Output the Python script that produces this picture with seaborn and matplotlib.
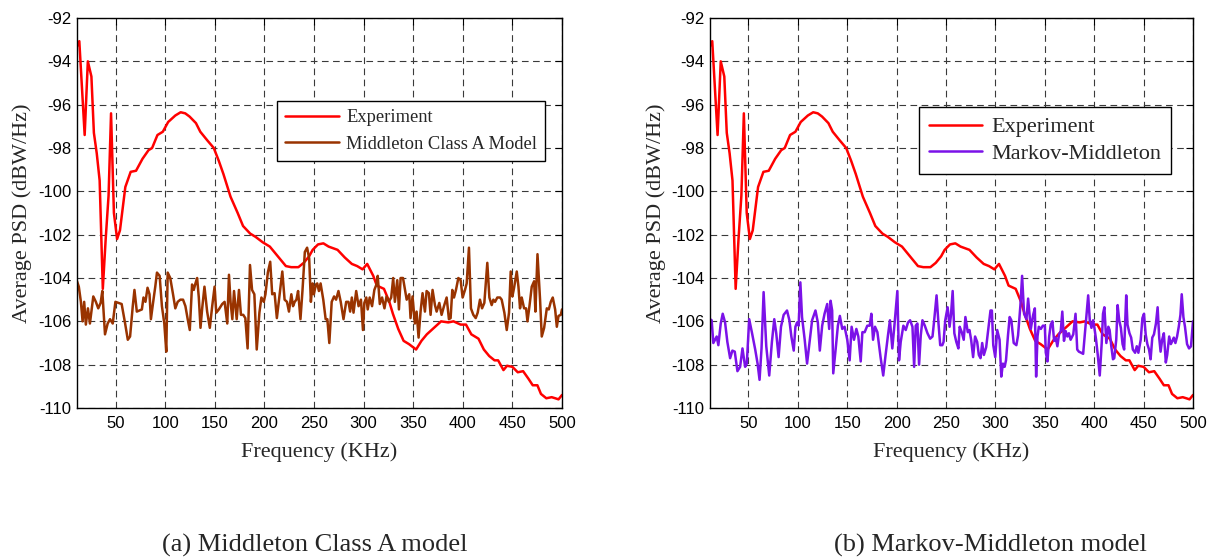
import numpy as np
import pandas as pd
import matplotlib
matplotlib.use('Agg')
import matplotlib.pyplot as plt
import seaborn as sns

# %% data (frequency in KHz, PSD in dBW/Hz)
exp_freq = [11, 13.3, 18.7, 21.9, 25.5, 28, 30.9, 33.8, 37, 39.9, 42.8, 45.3, 48.2, 51.4,
            54.3, 59.7, 65.1, 70.5, 77, 83.1, 86.7, 92.1, 97.5, 102.9, 110.1, 115.5, 120.1,
            124.5, 130.9, 135.3, 142.4, 148.9, 154, 158.6, 165.8, 173, 178.4, 185.6, 191,
            198.2, 205.4, 209, 214.4, 221.6, 227, 234.2, 239.6, 245, 248.6, 254, 259.4,
            264.7, 273.7, 280.9, 288.1, 293.5, 298.9, 303.6, 309.7, 313.3, 320.5, 325.9,
            329.5, 334.9, 340.3, 345.7, 352.9, 358.3, 363.7, 370.9, 378.1, 385.3, 390.6,
            397.8, 403.2, 408.6, 415.8, 421.2, 426.6, 432, 435.6, 441, 444.6, 450, 455.4,
            460.8, 466.2, 470.5, 475.2, 478.8, 484.2, 489.6, 493.2, 496.5, 500]
exp_psd = [-93.3, -93.07, -97.4, -94.0, -94.7, -97.3, -98.25, -99.5, -104.5, -102.2, -100.2,
           -96.4, -101, -102.2, -101.8, -99.8, -99.1, -99.05, -98.5, -98.1, -98.0, -97.4,
           -97.25, -96.8, -96.5, -96.35, -96.4, -96.55, -96.85, -97.25, -97.65, -98.0, -98.6,
           -99.2, -100.25, -101, -101.6, -101.95, -102.1, -102.35, -102.55, -102.75, -103.05,
           -103.45, -103.5, -103.5, -103.3, -103, -102.7, -102.45, -102.4, -102.55, -102.7,
           -103.05, -103.35, -103.45, -103.6, -103.35, -103.9, -104.35, -104.5, -105.1,
           -105.65, -106.35, -106.9, -107.05, -107.3, -106.9, -106.6, -106.3, -106.0, -106.05,
           -106.0, -106.15, -106.15, -106.6, -106.8, -107.3, -107.6, -107.8, -107.8, -108.25,
           -108.05, -108.1, -108.35, -108.3, -108.65, -108.95, -108.95, -109.35, -109.55,
           -109.5, -109.55, -109.6, -109.4]

mca_freq = [11, 12.8, 14.9, 16.6, 18.2, 19.9, 22, 24, 27.4, 30, 32.4, 34.8, 36.5, 39.2, 41.9,
            44.3, 47, 49.7, 52.7, 56, 59.5, 62.2, 64.5, 67.2, 68.9, 71.3, 76.4, 78, 80, 82.1,
            84.1, 85.5, 87.5, 89.9, 91.6, 94.3, 96.6, 99, 101, 102.4, 105, 107.8, 110.1, 112.5,
            115.2, 117.9, 120.3, 122.6, 124.7, 127, 128.7, 130.4, 132.1, 133.8, 135.5, 137.2,
            139.5, 142.2, 144.9, 147.3, 149.7, 151.4, 154, 157.4, 159.8, 162.5, 164.2, 165.9,
            167.6, 169.3, 172, 174.3,
            176.3, 178.6, 180.7, 183, 185.4, 187.5, 189.8, 192.2, 194.9, 196.9, 199.3, 201,
            203.4, 205.8, 207.8, 210.2, 212.5, 215.3, 218, 220.3, 222.7, 224.7, 227.1, 228.8,
            230.5, 232.2, 233.9, 236.3, 238.3, 240.7, 243, 245.1, 246.8, 248.5, 249.8, 251.9,
            253.2, 254.9, 256.6, 259.3, 261.7, 263.4, 265.4, 267.8, 270.2, 272.2, 274.6, 276.9,
            279.7, 282.4, 284.7, 286.4, 288.1, 289.8, 292.5, 294.9, 297.3, 299.3, 300.7, 302.7,
            304.1, 306.1, 308.5, 310.8, 312.9, 314.2, 316.3, 318.6, 321, 323.1, 325.4, 327.8,
            329.8, 331.5, 333.9, 335.6, 337.3, 339.7, 341.4, 343.4,
            346, 347.3, 349.3, 351.7, 353.4, 355.4, 357.4, 359.4, 361.8, 363.5, 365.8, 367.5,
            369.5, 371.9, 373.6, 376.3, 378.6, 381, 383.7, 386, 387.7, 389.4, 391.1, 393.1,
            395.5, 397.8, 399.8, 402.2, 403.9, 406.2, 408.2, 410.6, 413, 415, 417.3, 419.4,
            421.7, 424.7, 426.8, 429.1, 430.8, 432.5, 434.8, 437.5, 439.2, 441.9, 444.3, 446.6,
            448.3, 450, 451.7, 454.4, 456.1, 457.7, 459.4, 461.8, 463.8, 465.2, 467.2, 469.5,
            471.9, 473.2, 475.3, 477.9, 479.6, 482, 484.7, 486.7, 488.7, 490.7, 493.1, 494.8,
            496.5, 498.8, 500]
mca_psd = [-104.15, -104.4, -105.1, -106.0, -105.1, -106.15, -105.4, -106.1, -104.85, -105.1,
           -105.4, -105.15, -104.6, -106.6, -106.1, -105.9, -106.1, -105.1, -105.15, -105.2,
           -106.1, -106.85, -106.7, -105.3, -104.55, -105.55, -105.45, -104.9, -105.1, -104.45,
           -104.75, -105.9, -105.2, -104.4, -103.75, -103.9, -105.3, -106.1, -107.4, -103.75,
           -104, -104.75, -105.4, -105.1, -105, -105, -105.3, -105.9, -106.4, -104.3, -104.55,
           -104.25, -104, -104.9, -106.3, -105.4, -104.4, -105.55, -106.3, -105.3, -104.4,
           -105.6, -105.45, -105.2, -105.1, -106.1, -103.85, -105.15, -105.9, -104.6, -105.9,
           -104.55,
           -105.7, -105.7, -105.85, -107.25, -103.4, -104.55, -104.75, -107.3, -105.6, -104.9,
           -105.1, -104.75, -103.75, -103.25, -104.75, -104.7, -105.85, -104.75, -103.7, -105,
           -105.1, -105.55, -104.75, -105.3, -105.1, -105, -104.6, -105.9, -104.6, -102.8,
           -102.6, -103.1, -105.1, -104.25, -104.75, -104.3, -104.25, -104.6, -104.25, -105,
           -105.9, -105.9, -107, -105.1, -104.85, -105, -104.6, -105.1, -105.9, -105.1, -105.1,
           -105.55, -104.9, -105.6, -104.6, -105.3, -105, -106.4, -105.15, -104.9, -105.45,
           -104.9, -105.3, -104.55, -104.3, -103.9, -105.2, -104.9, -105.4, -104.85, -105.1,
           -104.9, -104, -105.1, -104.1, -105.45, -104, -104, -104.45, -105,
           -104.75, -105.85, -104.85, -106.1, -105.55, -106.75, -105.55, -104.7, -105.55,
           -104.6, -104.7, -105.7, -104.55, -105.25, -105.55, -105.15, -105.7, -105.3, -104.9,
           -105.9, -105.85, -104.55, -104.9, -104.55, -104, -104.1, -104.9, -104.55, -104.25,
           -102.6, -105.4, -105.7, -105.85, -105.6, -105, -105.4, -105.15, -103.3, -104.9,
           -105.25, -105, -105.1, -104.9, -104.9, -105, -105.6, -106.4, -105.6, -103.7,
           -104.85, -104.45, -103.7, -104.4, -105.4, -104.9, -105.4, -105.4, -106, -105.3,
           -104.4, -104.15, -105.55, -102.9, -105, -106.7, -106.3, -105.4, -105.45, -105.1,
           -104.9, -105.45, -106.25, -105.75, -105.7, -105.45]

mm_freq = [11, 12.7, 14.4, 16.1, 17.8, 19.5, 21.9, 23.9, 26.3, 28.6, 31.4, 33.7, 36.1, 38.8,
           41.5, 43.9, 46.6, 48.3, 50.7, 53.4, 56.8, 59.2, 61.2, 63.2, 65.3, 68, 71, 73.7, 76.1,
           78.1, 80.5, 82.9, 85.6, 89, 91.4, 93.4, 95.8, 97.5, 99.2, 100.8, 102.5, 104.2, 106.9,
           109.3, 111.7, 114.4, 117.8, 120.2, 122.2, 124.6, 127, 129.7, 131.7, 133.1, 134.7,
           135.8, 138.1, 140.5, 142.5, 144.9, 147.3, 150, 152.4, 154.4, 156.8, 159.2, 161.2,
           163.6, 165.3, 167.6, 170.3, 172.7, 174.4, 176.1, 178.1, 180.5,
           183.7, 186.4, 188.8, 191.2, 193.2, 195.6, 198, 200.7, 202.4, 204.1, 206.8, 209.2,
           211.5, 213.6, 216, 217.7, 219.3, 221, 222.7, 224.4, 226.1, 228.5, 231.2, 233.9,
           236.3, 238, 240.4, 242.1, 244.1, 246.2, 247.5, 249.2, 251.6, 253.6, 255, 256.7,
           258.4, 260.4, 262.5, 263.8, 265.9, 267.9, 269.6, 272, 273.7, 275.4, 277.4, 279.4,
           281.5, 283.2, 284.9, 286.6, 288.3, 290.6, 293, 295, 296.4, 297.8, 299.8, 301.8,
           304.2, 305.9, 307.6, 309.3, 310.7, 312.7, 314.4, 316.1, 318.5, 321.2, 322.9, 325.3,
           327, 329, 331.4, 333.1, 335.8, 338.2, 339.9, 341.2, 342.6, 343.9, 346, 348, 350,
           351, 352.7, 354.4, 356, 357.7, 359.4, 361, 362.7, 364.4, 366.1, 367.7, 369.4,
           371.1, 372.8, 374.4, 376.1, 378.8, 381.1, 382.8, 384.5, 386.8, 388.8, 390.5, 392.2,
           393.9, 395.5, 397.2, 398.9, 400.2, 401.9, 403.6, 405.6, 407.6, 408.9, 410.3, 412.3,
           414.3, 415.6, 417.3, 419, 420.3, 422.3, 423.7, 425.3, 427, 428.7, 430.3, 432.4,
           433.7, 435.7, 437.4, 439.1, 441.4, 443.1, 444.7, 447.1, 448.8, 450.4, 452.1, 453.8,
           455.5, 457.1, 458.8, 460.5, 462.5, 464.2, 465.8, 467.2, 468.8, 470.5, 472.5, 473.9,
           475.9, 477.6, 479.2, 480.6, 482.2, 483.9, 485.6, 487.3, 488.6, 490.3, 491.9, 494,
           496, 498, 500]
mm_psd = [-105.9, -105.95, -107.0, -106.85, -106.7, -107.1, -106.1, -105.65, -106.05, -106.95,
          -107.7, -107.35, -107.4, -108.3, -108.1, -107.25, -108.1, -107.95, -105.9, -106.5,
          -107.3, -107.95, -108.7, -107.25, -104.65, -107.15, -108.5, -106.95, -105.9, -106.55,
          -107.65, -106.25, -105.7, -105.5, -105.95, -106.7, -107.35, -106.25, -106.05, -106.2,
          -104.2, -105.8, -106.85, -107.95, -107.0, -105.95, -105.5, -106.05, -107.35, -106.2,
          -105.65, -105.2, -106.35, -105.05, -105.5, -108.4, -107.35, -106.2, -105.75, -106.35,
          -106.25, -106.85, -107.8, -106.25, -106.85, -106.35, -106.7, -107.85, -106.5, -106.5,
          -106.2, -106.2, -105.65, -106.85, -106.25, -106.5,
          -107.65, -108.5, -107.55, -106.65, -105.95, -107.25, -106.05, -104.6, -107.8, -106.95,
          -106.2, -106.4, -106.05, -105.95, -106.25, -108.1, -106.2, -106.1, -108.0, -106.65,
          -105.95, -106.2, -106.55, -106.8, -106.7, -105.95, -104.8, -105.95, -107.1, -107.1,
          -106.95, -105.95, -105.35, -106.25, -105.7, -104.6, -106.55, -106.95, -107.25,
          -106.25, -106.5, -106.85, -105.8, -106.5, -106.4, -106.85, -107.65, -106.7, -106.95,
          -107.55, -107.7, -107.0, -107.55, -107.2, -106.25, -105.5, -105.5, -107.1, -107.65,
          -106.4, -106.85, -108.55, -107.95, -108.1, -107.8, -106.65, -105.8, -105.95, -107.0,
          -107.1, -106.65, -105.25, -103.9, -105.65, -105.9, -104.95, -106.35, -105.7, -105.4,
          -108.55, -106.7, -106.25, -106.35, -106.2, -106.2,
          -107.45, -107.85, -106.7, -106.15, -106.0, -106.9, -106.75, -107.15, -106.6, -106.45,
          -105.55, -106.9, -106.45, -106.7, -106.55, -106.85, -106.6, -105.65, -107.3, -107.4,
          -107.45, -107.5, -106.6, -105.7, -104.8, -105.95, -106.3, -105.95, -106.3, -106.85,
          -107.55, -108.5, -107.0, -105.65, -105.35, -107.0, -106.25, -106.4, -107.15, -107.75,
          -107.7, -106.85, -105.25, -105.95, -106.3, -107.05, -107.3, -104.8, -106.15, -106.55,
          -106.75, -107.3, -107.45, -107.15, -107.45, -106.85, -105.85, -105.65, -106.6,
          -107.05, -107.3, -107.75, -106.75, -106.6, -106.1, -105.35, -106.75, -107.4, -106.85,
          -106.55, -107.9, -107.55, -106.7, -107.05, -106.9, -106.75, -107.0, -106.7, -106.25,
          -105.7, -104.75, -105.8, -106.25, -107.05, -107.25, -107.15, -106.0]

x_ticks = [50, 100, 150, 200, 250, 300, 350, 400, 450, 500]
y_ticks = [-110, -108, -106, -104, -102, -100, -98, -96, -94, -92]

# %% style
sns.set_style('white')
plt.rcParams['font.family'] = ['Liberation Serif', 'DejaVu Serif']
serif = ['Liberation Serif', 'DejaVu Serif']
sans = ['Liberation Sans', 'DejaVu Sans']

fig = plt.figure(figsize=(12.13, 5.59), dpi=100)
ax_a = fig.add_axes([0.0635, 0.2701, 0.3998, 0.6977])
ax_b = fig.add_axes([0.5853, 0.2701, 0.3982, 0.6977])


def draw_panel(ax, freq, psd, label, color, leg_size, leg_anchor, handle_len, leg_space):
    ax.grid(True, ls=(0, (6, 4)), color='#3a3a3a', lw=0.8)
    ax.set_axisbelow(True)
    sns.lineplot(x=exp_freq, y=exp_psd, ax=ax, color='#ff0000', lw=1.8,
                 label='Experiment', estimator=None, sort=False)
    sns.lineplot(x=freq, y=psd, ax=ax, color=color, lw=1.8,
                 label=label, estimator=None, sort=False)
    ax.set_xlim(11, 500)
    ax.set_ylim(-110, -92)
    ax.set_xticks(x_ticks)
    ax.set_yticks(y_ticks)
    ax.set_xticklabels([str(t) for t in x_ticks], family=sans, size=12)
    ax.set_yticklabels([str(t) for t in y_ticks], family=sans, size=12)
    ax.tick_params(direction='in', top=True, right=True, length=5, width=0.8,
                   colors='black')
    ax.tick_params(axis='x', pad=6)
    ax.tick_params(axis='y', pad=4)
    for sp in ax.spines.values():
        sp.set_color('black')
        sp.set_linewidth(1.0)
    ax.set_xlabel('Frequency (KHz)', family=serif, size=16)
    ax.set_ylabel('Average PSD (dBW/Hz)', family=serif, size=16)
    ax.xaxis.set_label_coords(0.5, -0.088)
    ax.yaxis.set_label_coords(-0.092, 0.5)
    leg = ax.legend(loc='upper left', bbox_to_anchor=leg_anchor, borderaxespad=0,
                    prop={'family': serif, 'size': leg_size}, frameon=True,
                    fancybox=False, framealpha=1, edgecolor='black',
                    handlelength=handle_len, handletextpad=0.4, labelspacing=leg_space,
                    borderpad=0.45)
    leg.get_frame().set_linewidth(1.0)


draw_panel(ax_a, mca_freq, mca_psd, 'Middleton Class A Model', '#993300',
           13.3, (0.412, 0.787), 2.9, 0.5)
draw_panel(ax_b, mm_freq, mm_psd, 'Markov-Middleton', '#7b12e8',
           16, (0.433, 0.772), 2.4, 0.28)

fig.text(315 / 1213, 1 - 545 / 559, '(a) Middleton Class A model', ha='center', va='center',
         family=serif, size=19)
fig.text(990 / 1213, 1 - 545 / 559, '(b) Markov-Middleton model', ha='center', va='center',
         family=serif, size=19)

fig.savefig('out.png', dpi=100)
